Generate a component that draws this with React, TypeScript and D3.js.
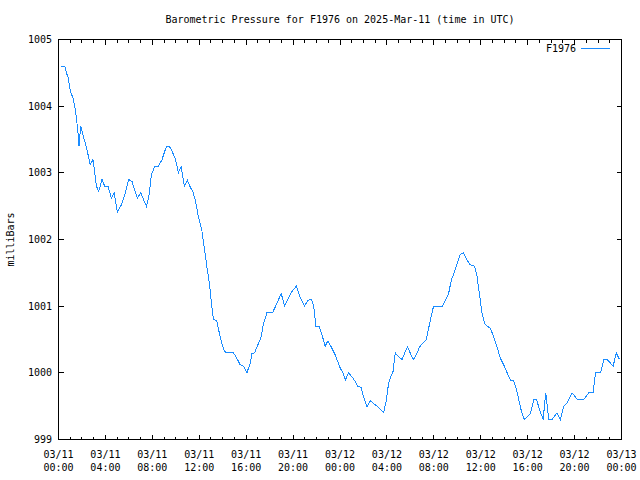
import React from "react";
import * as d3 from "d3";

const title = "Barometric Pressure for F1976 on 2025-Mar-11 (time in UTC)";
const yLabel = "milliBars";
const seriesName = "F1976";

// hours since 2025-03-11 00:00 UTC
const hours = [
  0.21, 0.53, 0.67, 0.81, 0.96, 1.07, 1.24, 1.38, 1.52, 1.66, 1.75, 1.89, 2.01, 2.24, 2.46, 2.71, 2.94, 3.09, 3.23, 3.43,
  3.71, 3.94, 4.22, 4.51, 4.74, 5.02, 5.36, 5.65, 5.99, 6.27, 6.72, 7.01, 7.49, 7.7, 7.92, 8.21, 8.52, 8.81, 9.09, 9.23,
  9.45, 9.66, 9.94, 10.09, 10.22, 10.45, 10.6, 10.73, 10.99, 11.22, 11.45, 11.65, 11.93, 12.22, 12.42, 12.65, 12.87, 13.07, 13.21, 13.5,
  13.72, 13.93, 14.12, 14.29, 14.92, 15.26, 15.49, 15.77, 16.06, 16.34, 16.49, 16.71, 17.0, 17.28, 17.48, 17.77, 18.24, 18.62, 18.99, 19.27,
  19.61, 19.9, 20.27, 20.52, 20.97, 21.26, 21.55, 21.74, 21.95, 22.23, 22.51, 22.74, 22.97, 23.25, 23.59, 24.02, 24.25, 24.45, 24.73, 25.02,
  25.3, 25.5, 25.79, 26.01, 26.3, 26.58, 26.86, 27.15, 27.43, 27.72, 27.95, 28.14, 28.35, 28.52, 28.71, 29.0, 29.29, 29.57, 29.76, 30.05,
  30.28, 30.57, 30.79, 31.08, 31.36, 31.56, 31.76, 31.98, 32.75, 32.98, 33.26, 33.49, 33.77, 33.98, 34.26, 34.54, 34.83, 35.11, 35.48, 35.69,
  35.88, 36.11, 36.34, 36.54, 36.82, 37.1, 37.39, 37.67, 37.96, 38.25, 38.53, 38.81, 39.01, 39.24, 39.47, 39.72, 40.23, 40.52, 40.75, 41.03,
  41.32, 41.54, 41.8, 42.08, 42.51, 42.79, 43.07, 43.36, 43.79, 44.22, 44.78, 45.21, 45.58, 45.78, 46.21, 46.49, 46.78, 47.29, 47.55, 47.83,
];

const pressure = [
  1004.6, 1004.6, 1004.5, 1004.44, 1004.27, 1004.2, 1004.12, 1004.0, 1003.84, 1003.6, 1003.4, 1003.7, 1003.62, 1003.47, 1003.32, 1003.12, 1003.2, 1003.0, 1002.8, 1002.72,
  1002.9, 1002.8, 1002.8, 1002.62, 1002.7, 1002.41, 1002.52, 1002.67, 1002.9, 1002.87, 1002.62, 1002.7, 1002.5, 1002.64, 1002.97, 1003.1, 1003.1, 1003.19, 1003.34, 1003.4,
  1003.4, 1003.33, 1003.22, 1003.12, 1003.0, 1003.09, 1002.94, 1002.8, 1002.89, 1002.79, 1002.72, 1002.6, 1002.34, 1002.14, 1001.89, 1001.59, 1001.34, 1001.0, 1000.8, 1000.78,
  1000.59, 1000.44, 1000.34, 1000.3, 1000.3, 1000.2, 1000.12, 1000.1, 1000.0, 1000.14, 1000.29, 1000.3, 1000.42, 1000.54, 1000.74, 1000.9, 1000.9, 1001.04, 1001.19, 1001.0,
  1001.12, 1001.22, 1001.3, 1001.17, 1001.0, 1001.09, 1001.1, 1001.02, 1000.7, 1000.69, 1000.54, 1000.4, 1000.48, 1000.39, 1000.27, 1000.07, 1000.0, 999.89, 1000.0, 999.94,
  999.87, 999.8, 999.78, 999.64, 999.49, 999.58, 999.54, 999.5, 999.45, 999.4, 999.59, 999.84, 999.95, 1000.02, 1000.3, 1000.24, 1000.2, 1000.32, 1000.39, 1000.27,
  1000.2, 1000.3, 1000.39, 1000.45, 1000.5, 1000.67, 1000.84, 1001.0, 1001.0, 1001.09, 1001.19, 1001.39, 1001.52, 1001.64, 1001.78, 1001.8, 1001.69, 1001.62, 1001.6, 1001.44,
  1001.19, 1000.89, 1000.74, 1000.7, 1000.67, 1000.54, 1000.39, 1000.22, 1000.12, 1000.0, 999.89, 999.88, 999.77, 999.6, 999.42, 999.3, 999.39, 999.6, 999.6, 999.44,
  999.3, 999.7, 999.3, 999.3, 999.4, 999.3, 999.5, 999.55, 999.7, 999.6, 999.6, 999.7, 999.7, 1000.0, 1000.0, 1000.2, 1000.2, 1000.1, 1000.3, 1000.2,
];

const yTicks = [999, 1000, 1001, 1002, 1003, 1004, 1005];
const xTickHours = [0, 4, 8, 12, 16, 20, 24, 28, 32, 36, 40, 44, 48];

const W = 640;
const H = 480;
const L = 58.5;
const R = 621.5;
const T = 39.5;
const B = 439.5;
const FONT = "'DejaVu Sans Mono', monospace";
const COLOR = "#1a8cff";

const base = Date.UTC(2025, 2, 11, 0, 0);
const toDate = (h: number) => new Date(base + h * 3600 * 1000);

export default function App() {
  const x = d3.scaleUtc().domain([toDate(0), toDate(48)]).range([L, R]);
  const y = d3.scaleLinear().domain([999, 1005]).range([B, T]);
  const data = hours.map((h, i) => ({ d: toDate(h), v: pressure[i] }));
  const line = d3
    .line<{ d: Date; v: number }>()
    .x((p) => x(p.d))
    .y((p) => y(p.v));
  const fmtDay = d3.utcFormat("%m/%d");
  const fmtTime = d3.utcFormat("%H:%M");
  const minor = d3.range(0, 49).filter((h) => h % 4 !== 0);

  return (
    <svg
      width={W}
      height={H}
      style={{ position: "absolute", left: 0, top: 0, background: "#fff" }}
      fontFamily={FONT}
      fontSize={10}
    >
      <rect x={0} y={0} width={W} height={H} fill="#fff" />
      <text x={(L + R) / 2} y={23} textAnchor="middle" fill="#000">
        {title}
      </text>
      <text
        transform={`translate(14,${(T + B) / 2}) rotate(-90)`}
        textAnchor="middle"
        fill="#000"
      >
        {yLabel}
      </text>
      <g stroke="#000" strokeWidth={1} shapeRendering="crispEdges">
        {yTicks.map((t) => (
          <g key={"y" + t}>
            <line x1={L} x2={L + 5} y1={y(t)} y2={y(t)} />
            <line x1={R - 5} x2={R} y1={y(t)} y2={y(t)} />
          </g>
        ))}
        {xTickHours.map((h) => (
          <g key={"x" + h}>
            <line x1={x(toDate(h))} x2={x(toDate(h))} y1={B} y2={B - 5} />
            <line x1={x(toDate(h))} x2={x(toDate(h))} y1={T} y2={T + 5} />
          </g>
        ))}
        {minor.map((h) => (
          <g key={"m" + h}>
            <line x1={x(toDate(h))} x2={x(toDate(h))} y1={B} y2={B - 3} />
            <line x1={x(toDate(h))} x2={x(toDate(h))} y1={T} y2={T + 3} />
          </g>
        ))}
        <rect x={L} y={T} width={R - L} height={B - T} fill="none" />
      </g>
      {yTicks.map((t) => (
        <text key={"yl" + t} x={52} y={y(t) + 3.5} textAnchor="end" fill="#000">
          {t}
        </text>
      ))}
      {xTickHours.map((h) => (
        <g key={"xl" + h}>
          <text x={x(toDate(h))} y={458} textAnchor="middle" fill="#000">
            {fmtDay(toDate(h))}
          </text>
          <text x={x(toDate(h))} y={471} textAnchor="middle" fill="#000">
            {fmtTime(toDate(h))}
          </text>
        </g>
      ))}
      <path
        d={line(data) || ""}
        fill="none"
        stroke={COLOR}
        strokeWidth={1}
        shapeRendering="crispEdges"
      />
      <text x={576} y={52} textAnchor="end" fill="#000">
        {seriesName}
      </text>
      <line
        x1={581}
        x2={610}
        y1={48.5}
        y2={48.5}
        stroke={COLOR}
        strokeWidth={1}
        shapeRendering="crispEdges"
      />
    </svg>
  );
}
